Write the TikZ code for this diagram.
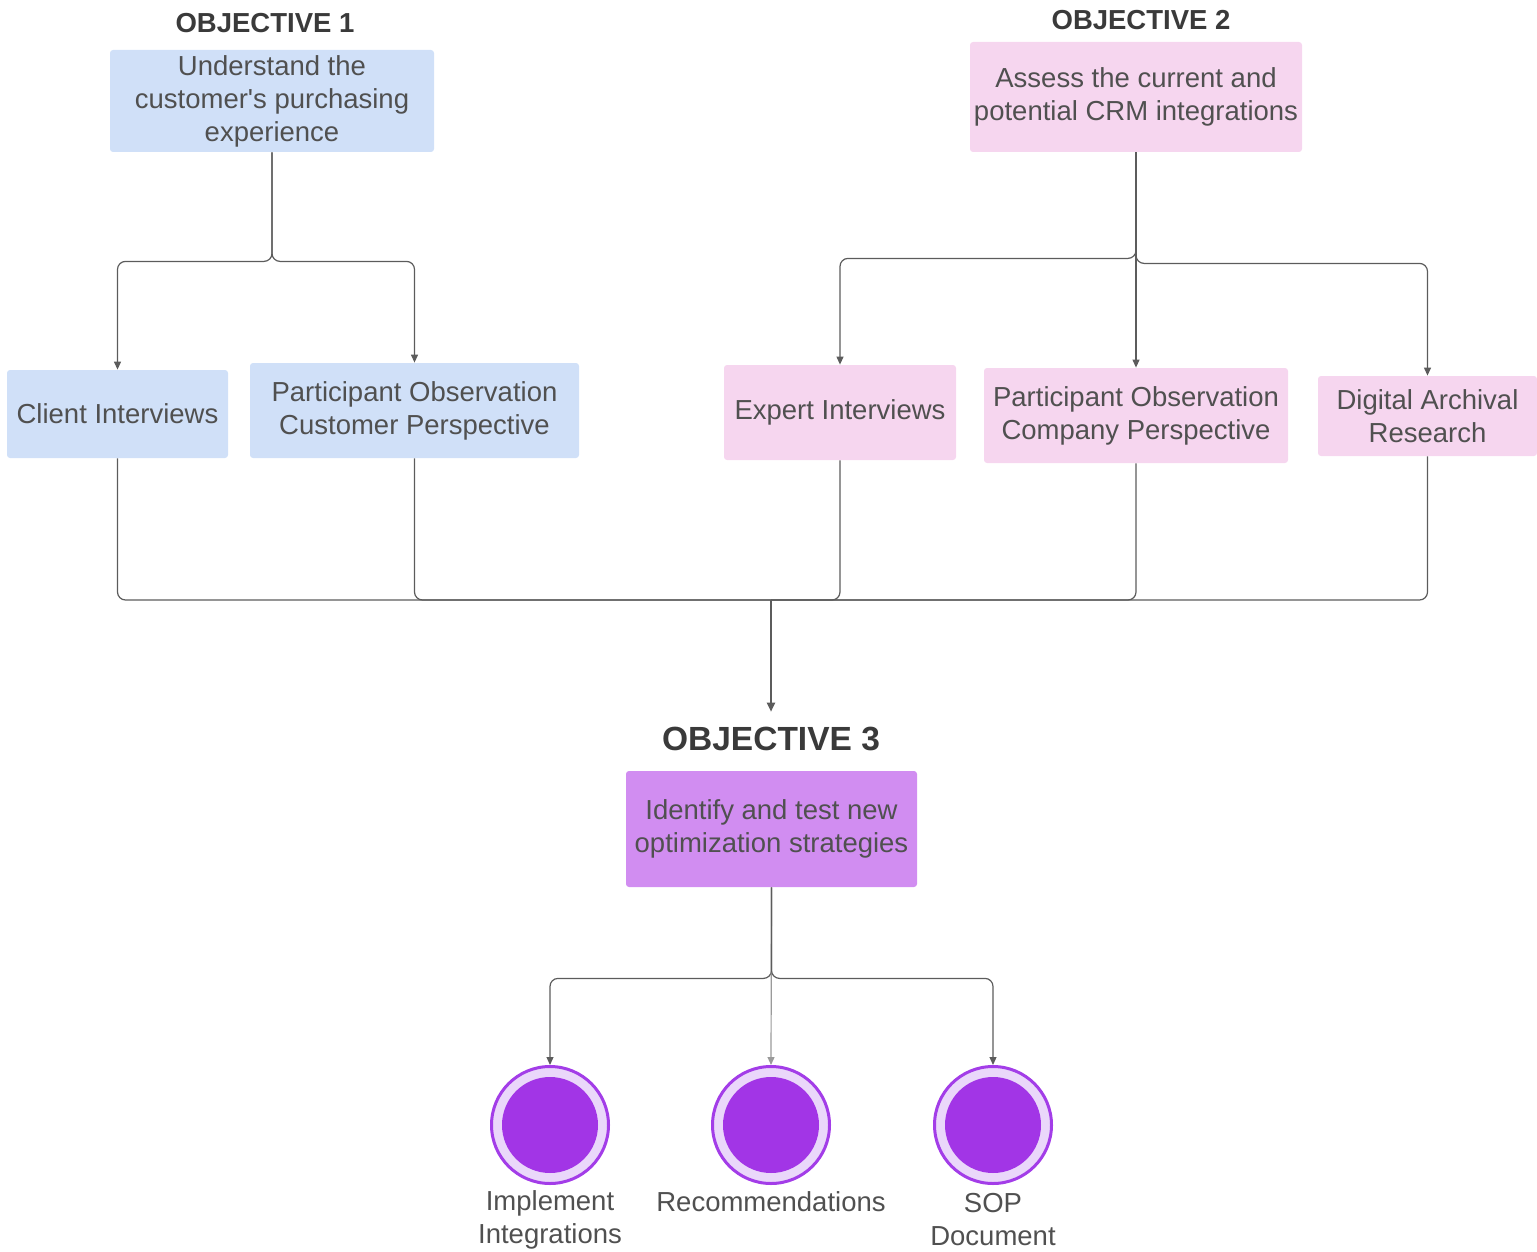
\documentclass[tikz,border=0pt]{standalone}
\usepackage{fontspec}
\setmainfont{Liberation Sans}[Ligatures=TeXOff]
\usetikzlibrary{arrows.meta}

\definecolor{blueF}{HTML}{D0E0F8}
\definecolor{pinkF}{HTML}{F6D6EF}
\definecolor{violetF}{HTML}{D18DF1}
\definecolor{ringLine}{HTML}{A33DE8}
\definecolor{ringFill}{HTML}{EAD7FA}
\definecolor{ringCore}{HTML}{A235E6}
\definecolor{txt}{HTML}{505050}
\definecolor{head}{HTML}{3A3A3A}
\definecolor{wire}{HTML}{5C5C5C}
\definecolor{lightwire}{HTML}{9A9A9A}

\newcommand{\bodyfont}{\fontsize{13.75}{16.5}\selectfont}
\newcommand{\headfont}{\fontsize{13.75}{16.5}\selectfont\bfseries}
\newcommand{\bigheadfont}{\fontsize{16.75}{20}\selectfont\bfseries}

\tikzset{
  box/.style={rectangle, rounded corners=1.5pt, inner sep=0pt, align=center,
              text=txt, font=\bodyfont},
  bluebox/.style={box, fill=blueF},
  pinkbox/.style={box, fill=pinkF},
  violetbox/.style={box, fill=violetF},
  heading/.style={text=head, font=\headfont, inner sep=0pt},
  ring/.style={circle, minimum size=58.5pt, inner sep=0pt, fill=ringFill,
               draw=ringLine, line width=1.5pt,
               path picture={\fill[ringCore] (path picture bounding box.center) circle (24pt);}},
  caption/.style={text=txt, font=\bodyfont, align=center, inner sep=0pt},
  conn/.style={draw=wire, line width=0.6pt, rounded corners=4pt},
  arrowed/.style={conn, -{Triangle[length=4pt,width=3.5pt]}},
  trunk/.style={draw=wire, line width=1pt, -{Triangle[length=4.5pt,width=4pt]}}
}

\begin{document}
\begin{tikzpicture}[x=0.5pt, y=-0.5pt]
  \useasboundingbox (0,0) rectangle (1537,1252);

  % Objective 1 and its methods
  \node[heading] (h1) at (265,23) {OBJECTIVE 1};
  \node[bluebox, minimum width=162pt, minimum height=51pt] (obj1) at (272,101)
    {Understand the\\customer's purchasing\\experience};
  \node[bluebox, minimum width=110.5pt, minimum height=44pt] (cli) at (117.5,414)
    {Client Interviews};
  \node[bluebox, minimum width=164.5pt, minimum height=47.5pt] (poc) at (414.5,410.5)
    {Participant Observation\\Customer Perspective};

  % Objective 2 and its methods
  \node[heading] (h2) at (1141,20) {OBJECTIVE 2};
  \node[pinkbox, minimum width=166pt, minimum height=55pt] (obj2) at (1136,97)
    {Assess the current and\\potential CRM integrations};
  \node[pinkbox, minimum width=116pt, minimum height=47.5pt] (exp) at (840,412.5)
    {Expert Interviews};
  \node[pinkbox, minimum width=152pt, minimum height=47.5pt] (pco) at (1136,415.5)
    {Participant Observation\\Company Perspective};
  \node[pinkbox, minimum width=109.5pt, minimum height=40pt] (dar) at (1427.5,416)
    {Digital Archival\\Research};

  % Objective 3 and its outcomes
  \node[heading, font=\bigheadfont, inner ysep=7.5pt] (h3) at (771,739) {OBJECTIVE 3};
  \node[violetbox, minimum width=145.5pt, minimum height=58pt] (obj3) at (771.5,829)
    {Identify and test new\\optimization strategies};

  \node[ring] (c1) at (550,1125) {};
  \node[ring] (c2) at (771,1125) {};
  \node[ring] (c3) at (993,1125) {};
  \node[caption] (l1) at (550,1219.5) {Implement\\Integrations};
  \node[caption] (l2) at (771,1202) {Recommendations};
  \node[caption] (l3) at (993,1219.5) {SOP\\Document};

  % Objective 1 branches
  \draw[arrowed] (obj1.south) -- ++(0,109) -| (cli.north);
  \draw[arrowed] (obj1.south) -- ++(0,109) -| (poc.north);

  % Objective 2 branches
  \draw[arrowed] (obj2.south) -- ++(0,106) -| (exp.north);
  \draw[arrowed] (obj2.south) -- (pco.north);
  \draw[arrowed] (obj2.south) -- ++(0,111) -| (dar.north);

  % Methods merge into Objective 3
  \coordinate (m) at (771,600);
  \draw[conn] (cli.south) |- (m);
  \draw[conn] (poc.south) |- (m);
  \draw[conn] (exp.south) |- (m);
  \draw[conn] (pco.south) |- (m);
  \draw[conn] (dar.south) |- (m);
  \draw[trunk] (m) -- (h3.north);

  % Objective 3 outcomes
  \draw[arrowed] (obj3.south) -- ++(0,91) -| (c1.north);
  \draw[arrowed, draw=lightwire] (obj3.south) -- (c2.north);
  \draw[arrowed] (obj3.south) -- ++(0,91) -| (c3.north);
\end{tikzpicture}
\end{document}
